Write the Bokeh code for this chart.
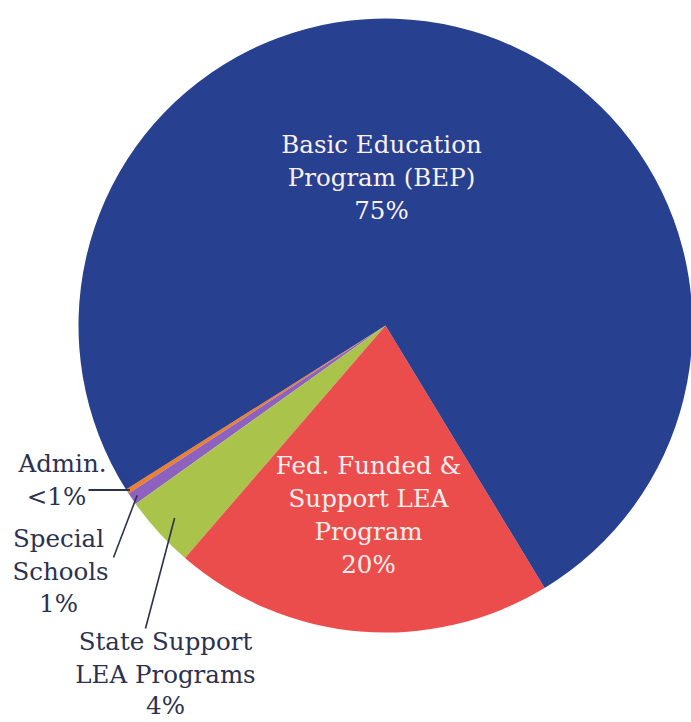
import math
from bokeh.plotting import figure
from bokeh.models import ColumnDataSource
from bokeh.core.properties import value
from bokeh.embed import file_html
from bokeh.resources import INLINE

# ---- data ----
categories = ["Admin.", "Special Schools", "State Support LEA Programs",
              "Fed. Funded & Support LEA Program", "Basic Education Program (BEP)"]
shares = [0.25, 0.65, 3.8, 20.0, 75.3]
pct_labels = ["<1%", "1%", "4%", "20%", "75%"]
colors = ["#ee7f2d", "#8d62bf", "#a9c34b", "#eb4d4c", "#27408f"]

# ---- layout ----
W, H = 691, 722
def X(px):
    return px
def Y(py):
    return H - py

cx, cy, R = X(385), Y(325), 307
start_deg = -147.7

starts, ends, mids = [], [], []
a = math.radians(start_deg)
total = sum(shares)
for s in shares:
    da = 2 * math.pi * s / total
    starts.append(a)
    ends.append(a + da)
    mids.append(a + da / 2)
    a += da

p = figure(width=W, height=H, x_range=(0, W), y_range=(0, H),
           output_backend="svg", toolbar_location=None, min_border=0,
           background_fill_color="white", border_fill_color="white")
p.axis.visible = False
p.grid.visible = False
p.outline_line_color = None

src = ColumnDataSource(dict(start=starts, end=ends, color=colors, cat=categories))
p.wedge(x=cx, y=cy, radius=R, start_angle="start", end_angle="end",
        fill_color="color", line_color=None, source=src)

FONT = value("DejaVu Serif")
SIZE = "24.5px"
dark = "#2d3150"
light = "#fbf0ef"

def block(lines, xs_px, ys_px, color):
    p.text(x=[X(v) for v in xs_px], y=[Y(v) for v in ys_px], text=lines,
           text_font=FONT, text_font_size=SIZE, text_color=color,
           text_align="center", text_baseline="middle")

# inside labels
block(["Basic Education", "Program (BEP)", pct_labels[4]],
      [381, 381, 381], [144, 177, 210], light)
block(["Fed. Funded &", "Support LEA", "Program", pct_labels[3]],
      [368, 368, 368, 368], [465, 498, 531, 564], light)

# outside labels
block(["Admin.", pct_labels[0]], [62, 56], [463, 496], dark)
block(["Special", "Schools", pct_labels[1]], [58, 60, 58], [538, 571, 603], dark)
block(["State Support", "LEA Programs", pct_labels[2]],
      [165, 165, 165], [641, 674, 705], dark)

# leader lines: from slice edge to label
def edge(i, frac):
    return cx + R * frac * math.cos(mids[i]), cy + R * frac * math.sin(mids[i])

ex0, ey0 = edge(0, 0.99)
p.line(x=[X(88), ex0], y=[ey0, ey0], line_color=dark, line_width=2)
ex1, ey1 = edge(1, 0.98)
p.line(x=[X(113), ex1], y=[Y(557), ey1], line_color=dark, line_width=1.6)
ex2, ey2 = edge(2, 0.93)
p.line(x=[X(145), ex2], y=[Y(628), ey2], line_color=dark, line_width=1.6)

open("out.html", "w").write(file_html(p, INLINE))
